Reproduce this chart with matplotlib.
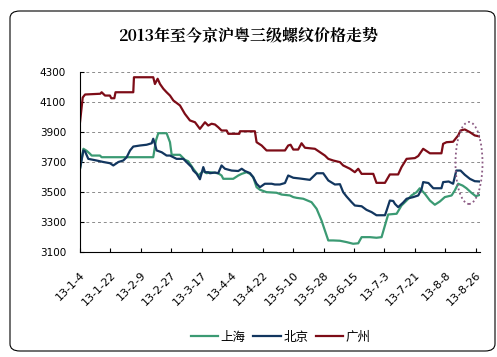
import matplotlib
matplotlib.use("Agg")
import matplotlib.pyplot as plt
from matplotlib.patches import FancyBboxPatch, Ellipse

plt.rcParams['font.family'] = ['Noto Sans CJK SC', 'DejaVu Sans']

# day offsets from 2013-01-04 and prices (yuan/t)
gz_days = [0, 1.6, 3, 12, 12.8, 14.8, 17.7, 18.5, 20.3, 21, 31.5, 31.9, 43.3, 44.3, 45.9,
           47.3, 49.3, 51.2, 53.2, 55.2, 59.1, 62, 65, 68, 70.9, 73.9, 75.8, 77.8, 79.8,
           81.7, 83.7, 86.7, 87.7, 94.2, 94.6, 103.4, 104.4, 107.4, 110.3, 121.2, 123.1,
           124.5, 126.1, 129, 131, 133, 138.9, 141.8, 144.8, 146.8, 149.7, 153.7, 155.6,
           159.6, 162.5, 164.5, 166.5, 173.4, 175.3, 180.3, 183.2, 188.1, 190.1, 193.1,
           198, 200, 202.9, 206.9, 213.7, 214.7, 216.7, 220.6, 223.6, 225, 227.5, 230.5,
           233.4, 236.4]
gz_vals = [3965, 4130, 4150, 4155, 4165, 4143, 4143, 4125, 4125, 4165, 4165, 4265, 4265, 4220, 4255,
           4220, 4188, 4165, 4143, 4110, 4077, 4021, 3977, 3965, 3921, 3965, 3943, 3955, 3950,
           3932, 3910, 3910, 3888, 3888, 3905, 3905, 3832, 3810, 3777, 3777, 3810,
           3815, 3783, 3783, 3825, 3795, 3788, 3766, 3743, 3721, 3710, 3699, 3677,
           3655, 3632, 3655, 3621, 3621, 3561, 3561, 3617, 3617, 3666, 3721,
           3726, 3740, 3788, 3758, 3758, 3821, 3832, 3835, 3877, 3910, 3917, 3899,
           3877, 3870]

bj_days = [0, 2, 3, 4.9, 9.8, 13.8, 17.7, 19.7, 22.7, 25.6, 27.6, 29.6, 31.5, 35.5, 39.4,
           42.4, 43.3, 44.3, 45.3, 48.3, 51.2, 53.2, 57.1, 61.1, 64, 66, 67, 69, 70.9, 72.9,
           73.9, 75.8, 76.8, 79.8, 81.7, 83.7, 85.7, 89.6, 93.6, 95.6, 97.5, 100.5, 102.4,
           104.4, 106.4, 109.3, 113.3, 115.2, 118.2, 121.2, 123.1, 126.1, 130, 135.9, 139.9,
           143.8, 146.8, 150.7, 153.7, 155.6, 157.6, 160.6, 162.5, 166.5, 169.4, 172.4,
           175.3, 180.3, 181.3, 183.2, 185.2, 186.2, 188.1, 191.1, 193.1, 197, 200, 202,
           202.9, 206, 208.9, 213.7, 214.7, 218, 220.6, 222.5, 225, 227.5, 230.5, 233.4, 236.4]
bj_vals = [3655, 3777, 3770, 3721, 3710, 3700, 3692, 3677, 3700, 3710, 3732, 3777, 3803, 3810, 3815,
           3825, 3855, 3820, 3777, 3765, 3743, 3743, 3721, 3721, 3688, 3666, 3643, 3621, 3585, 3666,
           3632, 3632, 3625, 3630, 3625, 3677, 3655, 3643, 3640, 3655, 3640, 3626, 3599,
           3555, 3532, 3555, 3555, 3550, 3550, 3560, 3610, 3595, 3590, 3581, 3625,
           3625, 3577, 3550, 3552, 3499, 3470, 3432, 3410, 3405, 3381, 3366,
           3345, 3345, 3377, 3443, 3440, 3421, 3399, 3430, 3455, 3466, 3477, 3521,
           3566, 3560, 3525, 3525, 3566, 3570, 3555, 3643, 3643, 3615, 3588, 3572, 3570]

sh_days = [0, 2, 3.9, 5.9, 6.9, 11.8, 12.8, 43.3, 44.9, 46.3, 51.2, 53.2, 54.2, 59.1, 62, 64,
           67, 70, 72.9, 74.9, 76.8, 81.7, 83.7, 84.7, 90.6, 93.6, 95.6, 98.5, 100.5, 102.4,
           104.4, 106.4, 110.3, 116.2, 119.2, 124.1, 126.1, 128.1, 132, 136.9, 139.9, 142.8,
           144.8, 146.8, 149.7, 153.7, 157.6, 161.5, 164.5, 166.5, 171.4, 175.3, 178.3, 180.3,
           182.2, 187.2, 190.1, 193.1, 196, 199, 200.9, 203.9, 206.9, 209.8, 212.8, 215.7,
           219.7, 221.6, 223.6, 226.2, 228.5, 231.5, 234, 236.4]
sh_vals = [3655, 3788, 3775, 3755, 3743, 3743, 3732, 3732, 3843, 3892, 3892, 3832, 3748, 3748, 3715, 3705,
           3655, 3610, 3640, 3625, 3632, 3625, 3610, 3588, 3588, 3610, 3621, 3632, 3621, 3599,
           3532, 3515, 3499, 3495, 3483, 3477, 3466, 3461, 3455, 3432, 3388, 3310,
           3243, 3177, 3177, 3175, 3166, 3155, 3158, 3199, 3199, 3195, 3199, 3277,
           3350, 3355, 3410, 3443, 3477, 3499, 3525, 3488, 3443, 3415, 3437, 3466,
           3477, 3510, 3555, 3543, 3525, 3494, 3472, 3481]

tick_labels = ['13-1-4', '13-1-22', '13-2-9', '13-2-27', '13-3-17', '13-4-4', '13-4-22',
               '13-5-10', '13-5-28', '13-6-15', '13-7-3', '13-7-21', '13-8-8', '13-8-26']
y_ticks = [3100, 3300, 3500, 3700, 3900, 4100, 4300]

fig = plt.figure(figsize=(4.97, 3.57), dpi=100)

# rounded chart frame, kept behind the axes
frame = FancyBboxPatch((10 / 497, 6 / 357), 485 / 497, 340 / 357,
                       boxstyle="round,pad=0,rounding_size=0.02",
                       transform=fig.transFigure, facecolor='none',
                       edgecolor='black', linewidth=0.8, zorder=-5)
fig.patches.append(frame)

fig.text(0.5, 1 - 36 / 357, '2013年至今京沪粤三级螺纹价格走势', ha='center', va='center',
         fontsize=11.5, fontweight='bold', family=['Noto Serif CJK SC', 'Noto Sans CJK SC', 'DejaVu Sans'])

ax = fig.add_axes([80 / 497, 1 - 252 / 357, 400 / 497, 180 / 357])
ax.plot(sh_days, sh_vals, color='#3b9a73', lw=1.6, label='上海')
ax.plot(bj_days, bj_vals, color='#12365f', lw=1.6, label='北京')
ax.plot(gz_days, gz_vals, color='#7d0c17', lw=1.6, label='广州')

ax.set_xlim(0, 236.5)
ax.set_ylim(3100, 4300)
ax.set_yticks(y_ticks)
ax.set_yticklabels([str(v) for v in y_ticks], fontsize=7.5, family='DejaVu Sans')
ax.set_xticks([18 * i for i in range(len(tick_labels))])
ax.set_xticklabels(tick_labels, rotation=45, ha='right', va='top', fontsize=8,
                   family='DejaVu Sans', rotation_mode='anchor')
ax.tick_params(axis='x', direction='in', length=3, pad=13)
ax.tick_params(axis='y', direction='in', length=3, pad=10)
ax.grid(axis='y', color='#8c8c8c', linestyle=(0, (3, 3)), linewidth=0.7)
ax.set_axisbelow(True)
ax.spines['top'].set_visible(False)
ax.spines['right'].set_visible(False)
ax.set_facecolor('none')

# highlight ellipse around latest prices
ell = Ellipse((469 / 497, 1 - 163 / 357), 27 / 497, 82 / 357, transform=fig.transFigure,
              fill=False, edgecolor='#8b5a83', linestyle=(0, (1, 1.5)), linewidth=1.3, zorder=5)
fig.artists.append(ell)

fig.legend(loc='center', bbox_to_anchor=(0.565, 1 - 337 / 357), ncol=3, frameon=False,
           fontsize=9, handlelength=2.2, handletextpad=0.2, columnspacing=0.6)

fig.savefig('out.png', dpi=100)
